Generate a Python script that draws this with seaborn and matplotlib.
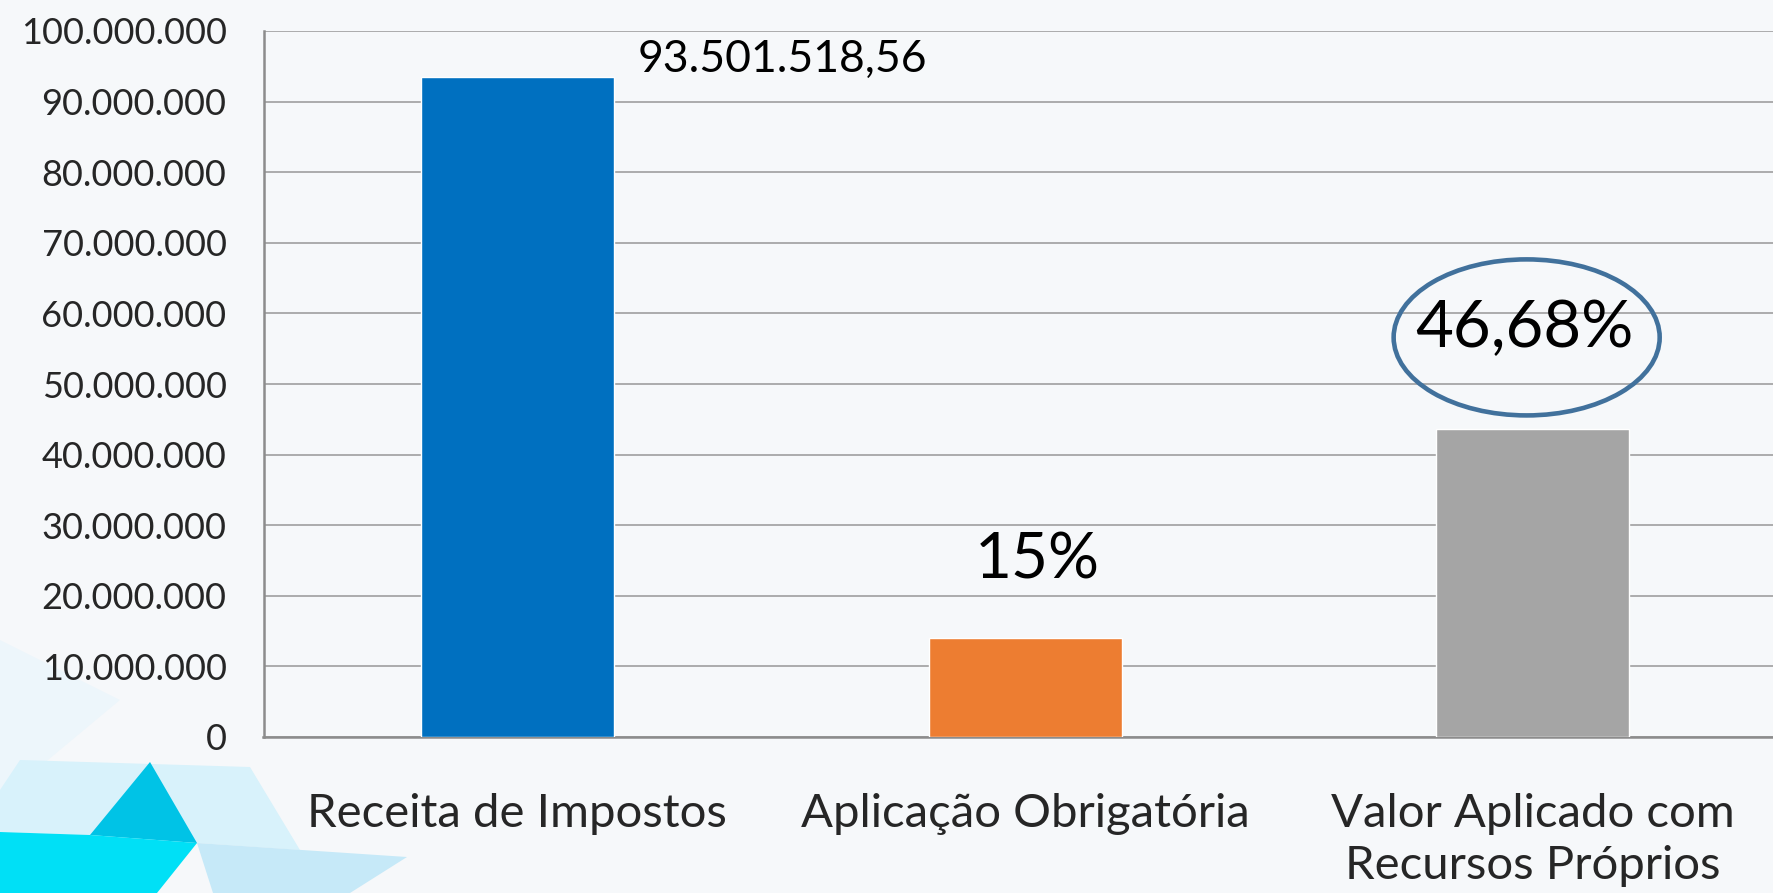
import matplotlib
matplotlib.use("Agg")
import matplotlib.pyplot as plt
from matplotlib.patches import Ellipse, Polygon
import seaborn as sns
import pandas as pd

categories = ["Receita de Impostos", "Aplicação Obrigatória", "Valor Aplicado com\nRecursos Próprios"]
values = [93501518.56, 14025227.78, 43646508.86]
bar_colors = ["#0070C0", "#ED7D31", "#A5A5A5"]
annotations = ["93.501.518,56", "15%", "46,68%"]
yticks = list(range(0, 100000001, 10000000))
ytick_labels = ["0", "10.000.000", "20.000.000", "30.000.000", "40.000.000", "50.000.000",
                "60.000.000", "70.000.000", "80.000.000", "90.000.000", "100.000.000"]

sns.set_theme(style="white")
plt.rcParams["font.family"] = ["Lato", "DejaVu Sans"]

W, H = 1773, 893
fig = plt.figure(figsize=(W / 100, H / 100), dpi=100)
fig.patch.set_facecolor("#F6F8FA")

# decorative background shapes (bottom-left), pixel coords from top-left
deco = [
    ([(0, 640), (120, 700), (0, 800)], "#EDF6FB"),
    ([(20, 760), (250, 767), (300, 850), (197, 843), (90, 835), (0, 832), (0, 790)], "#D8F2FB"),
    ([(197, 843), (407, 857), (350, 893), (213, 893)], "#C6E9F8"),
    ([(150, 762), (90, 835), (197, 843)], "#00C3E6"),
    ([(0, 832), (90, 835), (197, 843), (157, 893), (0, 893)], "#00E0F6"),
]
for pts, c in deco:
    fig.patches.append(Polygon([(x / W, 1 - y / H) for x, y in pts], closed=True,
                               transform=fig.transFigure, facecolor=c, edgecolor="none", zorder=-1))

left, right_px, top_px, bottom_px = 263.5, 263.5 + 3 * 507.7, 31, 737
ax = fig.add_axes([left / W, 1 - bottom_px / H, (right_px - left) / W, (bottom_px - top_px) / H])
ax.patch.set_alpha(0)
ax.set_zorder(2)

df = pd.DataFrame({"cat": categories, "val": values})
sns.barplot(data=df, x="cat", y="val", hue="cat", palette=bar_colors, width=0.38,
            legend=False, ax=ax, saturation=1, zorder=3)

ax.set_xlim(-0.5, 2.5)
ax.set_ylim(0, 100000000)
ax.set_yticks(yticks)
ax.set_yticklabels(ytick_labels)
ax.set_xlabel("")
ax.set_ylabel("")

ax.set_xticks([-0.5, 0.5, 1.5])
ax.set_xticklabels(["", "", ""])
ax.set_xticks([0, 1, 2], minor=True)
ax.set_xticklabels(categories, minor=True, fontsize=34, linespacing=1.3)
ax.tick_params(axis="x", which="major", length=11.5, width=1.1, color="#8C8C8C", direction="out")
ax.tick_params(axis="x", which="minor", length=0, pad=40)
ax.tick_params(axis="y", length=8.6, width=1.1, color="#8C8C8C", direction="out", labelsize=26, pad=18)

ax.grid(axis="y", color="#A6A6A6", linewidth=1.3, zorder=0)
ax.set_axisbelow(True)
for s in ["top", "right"]:
    ax.spines[s].set_visible(False)
for s in ["left", "bottom"]:
    ax.spines[s].set_color("#8C8C8C")
    ax.spines[s].set_linewidth(1.8)

ax.text(0.237, 96000000, annotations[0], ha="left", va="center", fontsize=32, color="black")
ax.text(1.024, 25000000, annotations[1], ha="center", va="center", fontsize=46, color="black")
ax.text(1.983, 57900000, annotations[2], ha="center", va="center", fontsize=47, color="black")
ax.add_patch(Ellipse((1.988, 56600000), 0.524, 22100000, fill=False, edgecolor="#41719C",
                     linewidth=3.3, zorder=5, clip_on=False))

fig.savefig("out.png", dpi=100, facecolor=fig.get_facecolor())
